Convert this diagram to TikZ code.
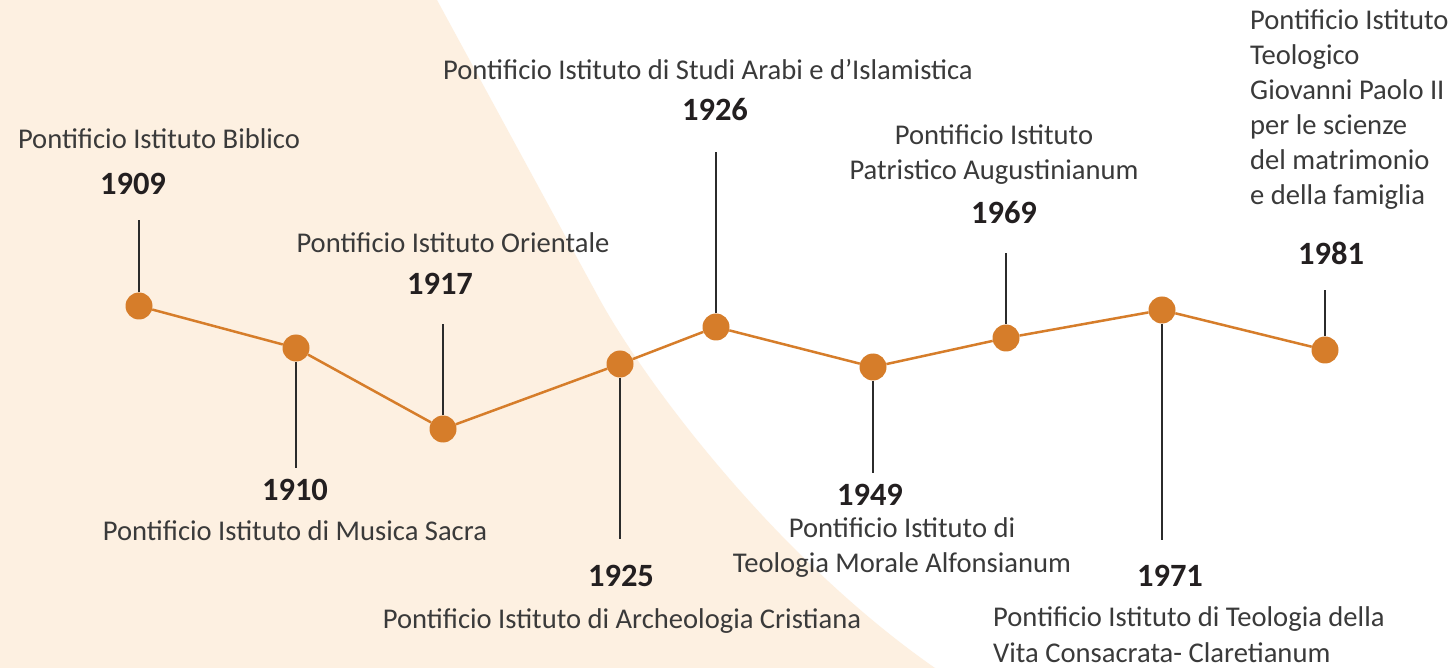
\documentclass[tikz,border=0pt]{standalone}
\usepackage{fontspec}
\setmainfont{Carlito}
\definecolor{peach}{HTML}{FDF0E1}
\definecolor{orangeline}{HTML}{D67D2A}
\definecolor{stemcol}{HTML}{2B2B2B}
\definecolor{labeltext}{HTML}{3A3A3A}
\definecolor{yeartext}{HTML}{231F20}
\begin{document}
\begin{tikzpicture}[x=1pt,y=-1pt,
  dot/.style={circle,fill=orangeline,minimum size=27pt,inner sep=0pt},
  stemline/.style={draw=stemcol,line width=2.5pt},
  link/.style={draw=orangeline,line width=2.5pt},
  lbl/.style={anchor=base,inner sep=0pt,text=labeltext,font=\fontsize{28.6}{35}\selectfont},
  lbll/.style={lbl,anchor=base west},
  yr/.style={anchor=base,inner sep=0pt,text=yeartext,font=\fontsize{32.5}{35}\selectfont\bfseries}]
\useasboundingbox (0,0) rectangle (1452,668);
\fill[white] (0,0) rectangle (1452,668);
\fill[peach] (0,0) -- (437,0) -- (600,300) .. controls (650,390) and (780,560) .. (935,668) -- (0,668) -- cycle;

% dots
\node[dot] (d1909) at (139,306) {};
\node[dot] (d1910) at (296,348) {};
\node[dot] (d1917) at (443,429) {};
\node[dot] (d1925) at (620,364) {};
\node[dot] (d1926) at (716,327) {};
\node[dot] (d1949) at (873,367) {};
\node[dot] (d1969) at (1006,338) {};
\node[dot] (d1971) at (1162,310) {};
\node[dot] (d1981) at (1325,350) {};

% links
\draw[link] (d1909) -- (d1910);
\draw[link] (d1910) -- (d1917);
\draw[link] (d1917) -- (d1925);
\draw[link] (d1925) -- (d1926);
\draw[link] (d1926) -- (d1949);
\draw[link] (d1949) -- (d1969);
\draw[link] (d1969) -- (d1971);
\draw[link] (d1971) -- (d1981);

% stems
\coordinate (s1909) at (139,220);
\coordinate (s1910) at (296,468);
\coordinate (s1917) at (443,324);
\coordinate (s1925) at (620,539);
\coordinate (s1926) at (716,152);
\coordinate (s1949) at (873,473);
\coordinate (s1969) at (1006,253);
\coordinate (s1971) at (1162,540);
\coordinate (s1981) at (1325,290);
\draw[stemline] (d1909) -- (s1909);
\draw[stemline] (d1910) -- (s1910);
\draw[stemline] (d1917) -- (s1917);
\draw[stemline] (d1925) -- (s1925);
\draw[stemline] (d1926) -- (s1926);
\draw[stemline] (d1949) -- (s1949);
\draw[stemline] (d1969) -- (s1969);
\draw[stemline] (d1971) -- (s1971);
\draw[stemline] (d1981) -- (s1981);

% years
\node[yr] (y1909) at (133,195) {1909};
\node[yr] (y1910) at (295,500) {1910};
\node[yr] (y1917) at (440,295) {1917};
\node[yr] (y1925) at (621,586) {1925};
\node[yr] (y1926) at (715,121) {1926};
\node[yr] (y1949) at (870,505) {1949};
\node[yr] (y1969) at (1004,224) {1969};
\node[yr] (y1971) at (1170,586) {1971};
\node[yr] (y1981) at (1331,265) {1981};

% labels
\node[lbl] (l1909) at (159,149) {Pontificio Istituto Biblico};
\node[lbl] (l1910) at (295,540) {Pontificio Istituto di Musica Sacra};
\node[lbl] (l1917) at (453,253) {Pontificio Istituto Orientale};
\node[lbl] (l1925) at (622,628) {Pontificio Istituto di Archeologia Cristiana};
\node[lbl] (l1926) at (708,80) {Pontificio Istituto di Studi Arabi e d’Islamistica};
\node[lbl] (l1949a) at (902,537) {Pontificio Istituto di};
\node[lbl] (l1949b) at (902,572) {Teologia Morale Alfonsianum};
\node[lbl] (l1969a) at (994,145) {Pontificio Istituto};
\node[lbl] (l1969b) at (994,180) {Patristico Augustinianum};
\node[lbll] (l1971a) at (993,626) {Pontificio Istituto di Teologia della};
\node[lbll] (l1971b) at (993,662) {Vita Consacrata- Claretianum};
\node[lbll] (l1981a) at (1250,30) {Pontificio Istituto};
\node[lbll] (l1981b) at (1250,65) {Teologico};
\node[lbll] (l1981c) at (1250,100) {Giovanni Paolo II};
\node[lbll] (l1981d) at (1250,135) {per le scienze};
\node[lbll] (l1981e) at (1250,170) {del matrimonio};
\node[lbll] (l1981f) at (1250,205) {e della famiglia};
\end{tikzpicture}
\end{document}
